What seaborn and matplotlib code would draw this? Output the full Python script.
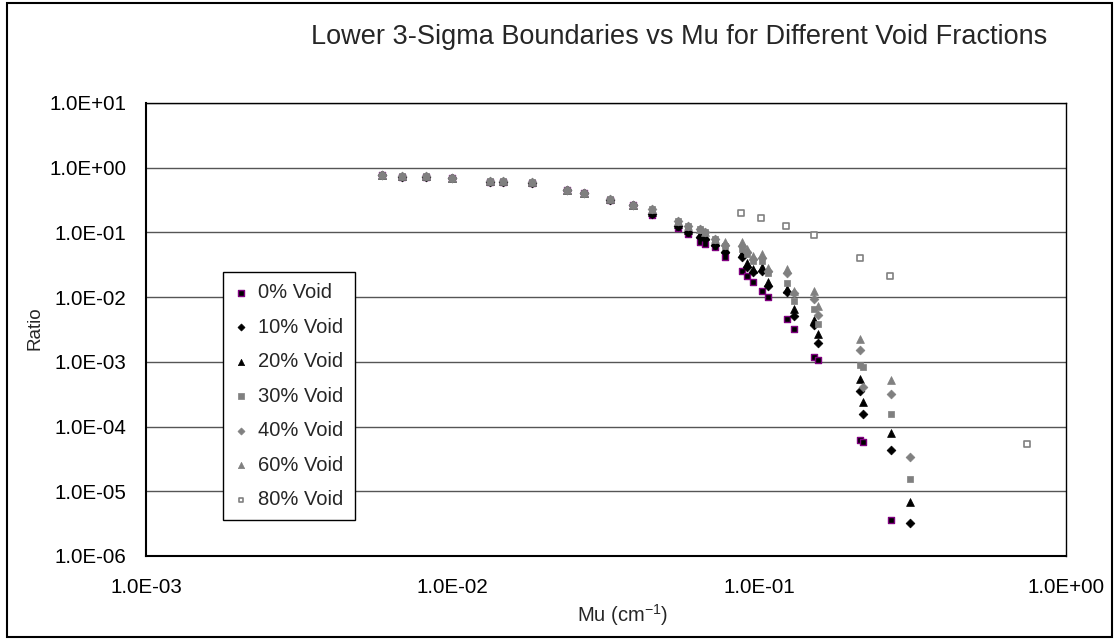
import numpy as np
import matplotlib
matplotlib.use("Agg")
import matplotlib.pyplot as plt
import matplotlib.ticker as mticker
from matplotlib.patches import Rectangle
import seaborn as sns

nan = np.nan

# Mu values (cm^-1)
mu = [0.00588, 0.00682, 0.00817, 0.00998, 0.01324, 0.01463, 0.01811, 0.02355, 0.02689, 0.0326, 0.0388,
      0.0447, 0.0543, 0.0586, 0.0641, 0.0666, 0.0717, 0.0774, 0.0877, 0.0910, 0.0957,
      0.1019, 0.1071, 0.1230, 0.1301, 0.1508, 0.1549, 0.2133, 0.2181, 0.2685, 0.3103]

top = [0.772, 0.734, 0.734, 0.694, 0.615, 0.615, 0.593, 0.453, 0.407, 0.329, 0.269]
top_black = [0.765, 0.728, 0.728, 0.688, 0.609, 0.609, 0.587, 0.448, 0.400, 0.322, 0.262]

void0 = top_black + [0.188, 0.117, 0.0958, 0.0704, 0.0672, 0.0604, 0.0413, 0.0257, 0.0215, 0.0174,
                     0.0126, 0.0102, 0.00462, 0.00324, 0.00117, 0.00105, 6.28e-5, 5.77e-5, 3.66e-6, nan]
void10 = top_black + [0.193, 0.127, 0.1004, 0.0840, 0.0802, 0.0641, 0.0493, 0.0423, 0.0289, 0.0242,
                      0.0257, 0.0151, 0.0118, 0.00507, 0.00365, 0.00194, 0.000349, 0.000158, 4.29e-5, 3.18e-6]
void20 = top + [0.209, 0.137, 0.110, 0.0958, 0.0893, 0.0709, 0.0562, 0.0488, 0.0342, 0.0276,
                0.0297, 0.0174, 0.0136, 0.00660, 0.00447, 0.00272, 0.000548, 0.000239, 8.05e-5, 6.84e-6]
void30 = top + [0.231, 0.152, 0.124, 0.113, 0.1028, 0.0794, 0.0625, 0.0562, 0.0466, 0.0367,
                0.0367, 0.0240, 0.0164, 0.00887, 0.0066, 0.00387, 0.000902, 0.000828, 0.000154, 1.57e-5]
void40 = top + [0.231, 0.152, 0.124, 0.113, 0.1028, 0.0794, 0.0648, 0.0625, 0.0506, 0.0394,
                0.0408, 0.0257, 0.0240, 0.0115, 0.00942, 0.00533, 0.00155, 0.000407, 0.000314, 3.38e-5]
void60 = top + [0.231, 0.152, 0.124, 0.113, 0.1028, 0.0794, 0.0704, 0.0721, 0.0562, 0.0439,
                0.0466, 0.0286, 0.0276, 0.0126, 0.0123, 0.00742, 0.00222, nan, 0.000516, nan]

mu80 = [0.0873, 0.1014, 0.1220, 0.1506, 0.2133, 0.2671, 0.745]
void80 = [0.197, 0.1675, 0.124, 0.0902, 0.0404, 0.0215, 5.45e-5]

labels = ["0% Void", "10% Void", "20% Void", "30% Void", "40% Void", "60% Void", "80% Void"]

sns.set_style("white")
plt.rcParams['font.family'] = ['Liberation Sans', 'DejaVu Sans']

fig = plt.figure(figsize=(11.14, 6.44), dpi=100)
ax = fig.add_axes([146 / 1114, 1 - 556 / 644, 920 / 1114, 453 / 644])

gray = '#808080'
styles = [
    (mu, void0, 's', 'black', '#800080', 22, 1.0),
    (mu, void10, 'D', 'black', 'black', 20, 0.5),
    (mu, void20, '^', 'black', 'black', 32, 0.5),
    (mu, void30, 's', gray, gray, 22, 0.5),
    (mu, void40, 'D', gray, gray, 20, 0.5),
    (mu, void60, '^', gray, gray, 32, 0.5),
    (mu80, void80, 's', 'white', gray, 20, 1.2),
]

for (x, y, m, fc, ec, s, lw), lab in zip(styles, labels):
    sns.scatterplot(x=x, y=y, marker=m, color=fc, edgecolor=ec, s=s, linewidth=lw,
                    label=lab, ax=ax, zorder=3)

ax.set_xscale('log')
ax.set_yscale('log')
ax.set_xlim(1e-3, 1e0)
ax.set_ylim(1e-6, 1e1)
ax.set_xticks([1e-3, 1e-2, 1e-1, 1e0])
ax.set_yticks([10.0 ** k for k in range(-6, 2)])
ax.xaxis.set_minor_locator(mticker.NullLocator())
ax.yaxis.set_minor_locator(mticker.NullLocator())
fmt = mticker.FuncFormatter(lambda v, p: f"{v:.1E}")
ax.xaxis.set_major_formatter(fmt)
ax.yaxis.set_major_formatter(fmt)
ax.tick_params(axis='both', which='major', direction='out', length=7, width=1,
               color='black', labelsize=14.8, labelcolor='black')
ax.tick_params(axis='y', pad=7)
ax.tick_params(axis='x', pad=9)
ax.yaxis.grid(True, color='#555555', linewidth=1)
ax.xaxis.grid(False)
ax.set_axisbelow(True)
for sp in ax.spines.values():
    sp.set_visible(True)
    sp.set_color('black')
    sp.set_linewidth(1)
ax.spines['left'].set_linewidth(1.5)
ax.spines['bottom'].set_linewidth(1.5)
ax.set_xlabel("")
ax.set_ylabel("")

leg = ax.legend(loc='upper left', bbox_to_anchor=(223 / 1114, 1 - 272 / 644),
                bbox_transform=fig.transFigure, fontsize=14.5, frameon=True,
                fancybox=False, edgecolor='black', framealpha=1, borderpad=0.55,
                labelspacing=0.77, handlelength=0.7, handletextpad=0.5, borderaxespad=0,
                markerscale=0.8)
leg.get_frame().set_linewidth(1)

fig.text(679 / 1114, 1 - 44 / 644, "Lower 3-Sigma Boundaries vs Mu for Different Void Fractions",
         ha='center', va='baseline', fontsize=19.5)
fig.text(35 / 1114, 1 - 328 / 644, "Ratio", rotation=90, ha='center', va='center', fontsize=13.5)
fig.text(623 / 1114, 1 - 622 / 644, r"Mu (cm$^{\mathregular{-1}}$)", ha='center', va='baseline',
         fontsize=14.5)

fig.patches.append(Rectangle((7 / 1114, 1 - 637 / 644), 1105 / 1114, 634 / 644,
                             transform=fig.transFigure, fill=False, edgecolor='black',
                             linewidth=1.5, zorder=10))

fig.savefig("out.png", dpi=100)
